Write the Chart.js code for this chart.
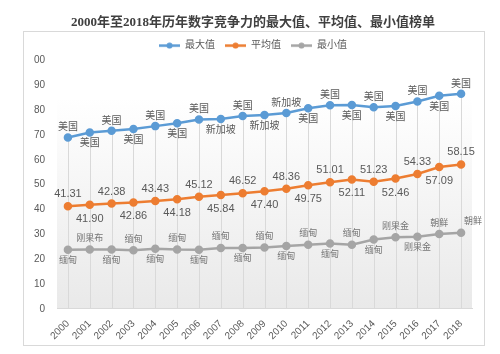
<!DOCTYPE html>
<html>
<head>
<meta charset="utf-8">
<script src="https://cdn.jsdelivr.net/npm/chart.js@4/dist/chart.umd.min.js"></script>
<style>
  html, body { margin: 0; padding: 0; background: #fff; }
  #wrap { width: 500px; height: 354px; }
</style>
</head>
<body>
<div id="wrap"><canvas id="myChart" width="500" height="354"></canvas></div>
<script>
const years = ['2000', '2001', '2002', '2003', '2004', '2005', '2006', '2007', '2008', '2009',
    '2010', '2011', '2012', '2013', '2014', '2015', '2016', '2017', '2018'];
const maxValues = [69.0, 71.0, 71.7, 72.4, 73.6, 74.8, 76.3, 76.5, 77.7, 78.1,
    78.9, 80.8, 82.0, 82.1, 81.2, 81.7, 83.5, 85.8, 86.6];
const avgValues = [41.31, 41.90, 42.38, 42.86, 43.43, 44.18, 45.12, 45.84, 46.52, 47.40,
    48.36, 49.75, 51.01, 52.11, 51.23, 52.46, 54.33, 57.09, 58.15];
const minValues = [23.8, 23.9, 23.9, 23.6, 24.2, 23.9, 23.8, 24.5, 24.5, 24.7,
    25.3, 25.8, 26.3, 25.8, 27.9, 28.8, 29.0, 30.1, 30.6];
const maxCountries = ['美国', '美国', '美国', '美国', '美国', '美国', '美国', '新加坡', '美国', '新加坡',
    '新加坡', '美国', '美国', '美国', '美国', '美国', '美国', '美国', '美国'];
const minCountries = ['缅甸', '刚果布', '缅甸', '缅甸', '缅甸', '缅甸', '缅甸', '缅甸', '缅甸', '缅甸',
    '缅甸', '缅甸', '缅甸', '缅甸', '缅甸', '刚果金', '刚果金', '朝鲜', '朝鲜'];
const seriesNames = ['最大值', '平均值', '最小值'];
const colors = ['#5b9bd5', '#ed7d31', '#a5a5a5'];

const labelFont = '"Liberation Sans", "Noto Sans CJK SC", sans-serif';

// little "line with a dot" image for the legend, like Excel
function legendMarker(color) {
    const c = document.createElement('canvas');
    c.width = 21;
    c.height = 7;
    const g = c.getContext('2d');
    g.strokeStyle = color;
    g.lineWidth = 2.5;
    g.beginPath();
    g.moveTo(0, 3.5);
    g.lineTo(21, 3.5);
    g.stroke();
    g.fillStyle = color;
    g.beginPath();
    g.arc(10.5, 3.5, 3, 0, Math.PI * 2);
    g.fill();
    return c;
}

const framePlugin = {
    id: 'frame',
    beforeDraw(chart) {
        const ctx = chart.ctx;
        const area = chart.chartArea;
        ctx.save();
        ctx.fillStyle = '#ffffff';
        ctx.fillRect(0, 0, chart.width, chart.height);
        ctx.strokeStyle = '#d9d9d9';
        ctx.lineWidth = 1;
        ctx.strokeRect(23.5, 31.5, 461, 314);
        const grad = ctx.createLinearGradient(0, area.top, 0, area.bottom);
        grad.addColorStop(0, '#ffffff');
        grad.addColorStop(0.15, '#ffffff');
        grad.addColorStop(1, '#e9e9e9');
        ctx.fillStyle = grad;
        ctx.fillRect(area.left, area.top, area.right - area.left, area.bottom - area.top);
        ctx.restore();
    }
};

// drop lines from the top series down to the axis
const dropLinePlugin = {
    id: 'dropLines',
    beforeDatasetsDraw(chart) {
        const ctx = chart.ctx;
        const bottom = chart.scales.y.getPixelForValue(0);
        const points = chart.getDatasetMeta(0).data;
        ctx.save();
        ctx.strokeStyle = '#d9d9d9';
        ctx.lineWidth = 1;
        points.forEach(p => {
            const x = Math.round(p.x) + 0.5;
            ctx.beginPath();
            ctx.moveTo(x, p.y);
            ctx.lineTo(x, bottom);
            ctx.stroke();
        });
        ctx.restore();
    }
};

const valueLabelPlugin = {
    id: 'valueLabels',
    afterDatasetsDraw(chart) {
        const ctx = chart.ctx;
        ctx.save();
        ctx.textAlign = 'center';
        ctx.textBaseline = 'middle';

        ctx.fillStyle = '#595959';
        ctx.font = '10px ' + labelFont;
        chart.getDatasetMeta(0).data.forEach((p, i) => {
            const dy = i % 2 === 0 ? -10 : 11;
            ctx.fillText(maxCountries[i], p.x, p.y + dy);
        });

        ctx.font = '11px ' + labelFont;
        chart.getDatasetMeta(1).data.forEach((p, i) => {
            const dy = i % 2 === 0 ? -12 : 14;
            ctx.fillText(avgValues[i].toFixed(2), p.x, p.y + dy);
        });

        ctx.fillStyle = '#767676';
        ctx.font = '9px ' + labelFont;
        const minPts = chart.getDatasetMeta(2).data;
        minPts.forEach((p, i) => {
            if (i === minPts.length - 1) {
                ctx.textAlign = 'left';
                ctx.fillText(minCountries[i], p.x + 3, p.y - 11);
                ctx.textAlign = 'center';
                return;
            }
            const dy = i % 2 === 0 ? 11 : -11;
            ctx.fillText(minCountries[i], p.x, p.y + dy);
        });
        ctx.restore();
    }
};

function makeDataset(name, values, color) {
    return {
        label: name,
        data: values,
        borderColor: color,
        backgroundColor: color,
        borderWidth: 2.5,
        pointRadius: 3,
        pointHoverRadius: 3,
        pointStyle: 'circle',
        fill: false,
        tension: 0
    };
}

const ctx = document.getElementById('myChart').getContext('2d');
const myLineChart = new Chart(ctx, {
    type: 'line',
    data: {
        labels: years,
        datasets: [
            makeDataset(seriesNames[0], maxValues, colors[0]),
            makeDataset(seriesNames[1], avgValues, colors[1]),
            makeDataset(seriesNames[2], minValues, colors[2])
        ]
    },
    plugins: [framePlugin, dropLinePlugin, valueLabelPlugin],
    options: {
        responsive: false,
        animation: false,
        layout: {
            padding: { left: 34, right: 28, top: 0, bottom: 3 }
        },
        plugins: {
            title: {
                display: true,
                text: '2000年至2018年历年数字竞争力的最大值、平均值、最小值榜单',
                color: '#404040',
                font: { family: '"Liberation Serif", "Noto Sans CJK SC", serif', size: 13, weight: 'bold' },
                padding: { top: 15, bottom: 0 }
            },
            legend: {
                display: true,
                position: 'top',
                labels: {
                    usePointStyle: true,
                    pointStyleWidth: 21,
                    color: '#595959',
                    font: { family: labelFont, size: 10 },
                    padding: 10,
                    generateLabels(chart) {
                        const items = Chart.defaults.plugins.legend.labels.generateLabels(chart);
                        items.forEach((item, i) => {
                            item.pointStyle = legendMarker(colors[i]);
                        });
                        return items;
                    }
                }
            },
            tooltip: { enabled: false }
        },
        scales: {
            x: {
                offset: true,
                grid: { display: false, drawTicks: false },
                border: { display: true, color: '#d9d9d9' },
                ticks: {
                    color: '#595959',
                    font: { family: labelFont, size: 10 },
                    autoSkip: false,
                    maxRotation: 45,
                    minRotation: 45,
                    padding: 9
                },
                afterFit(scale) {
                    scale.paddingLeft = 0;
                    scale.paddingRight = 0;
                }
            },
            y: {
                min: 0,
                max: 100,
                grid: { display: false, drawTicks: false },
                border: { display: false },
                ticks: {
                    stepSize: 10,
                    color: '#595959',
                    font: { family: labelFont, size: 10 },
                    padding: 12
                },
                afterFit(scale) {
                    scale.width = 23;
                }
            }
        }
    }
});
</script>
</body>
</html>
